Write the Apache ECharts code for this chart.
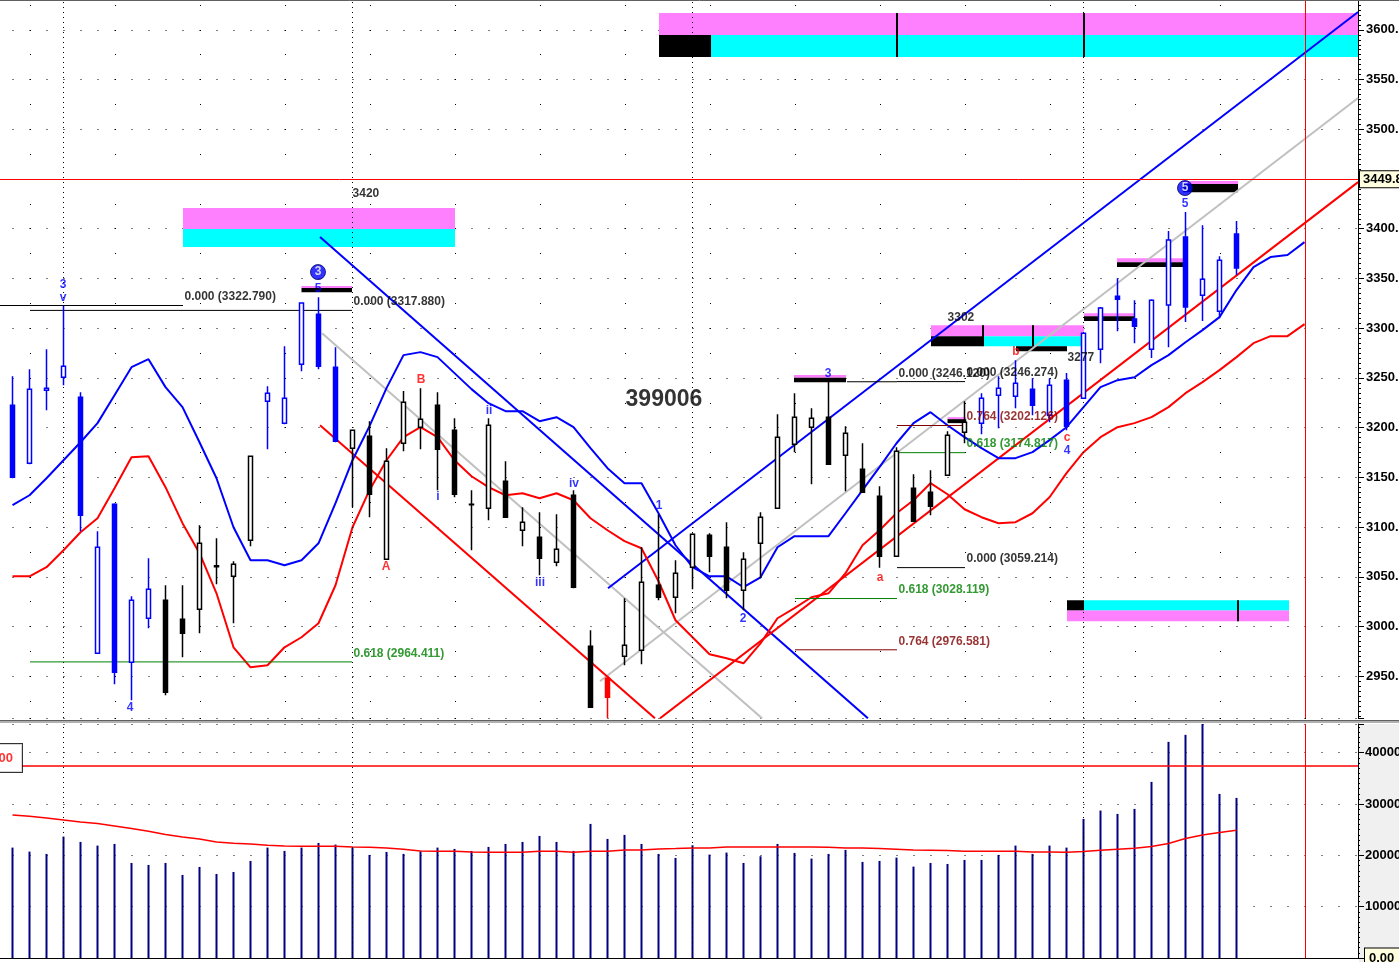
<!DOCTYPE html>
<html><head><meta charset="utf-8">
<script src="https://cdn.jsdelivr.net/npm/echarts@6/dist/echarts.min.js"></script>
<style>html,body{margin:0;padding:0;background:#fff;overflow:hidden}#c{width:1399px;height:962px}</style>
</head><body><div id="c"></div>
<script>
// ---------------- DATA ----------------
// daily candles [open, close, low, high], index 0..72
const ohlc = [
[3222.6,3150.1,3149.1,3251.7],[3164.2,3238.7,3163.2,3258.8],[3237.7,3239.7,3217.5,3278.9],[3250.7,3261.8,3242.7,3322.8],
[3230.6,3111.9,3095.8,3235.6],[2973.1,3079.7,2972.5,3095.8],[3123.0,2954.0,2941.9,3124.0],[2964.0,3026.4,2925.8,3030.4],
[3008.3,3037.5,2998.2,3068.7],[3026.4,2933.8,2930.8,3041.5],[3007.3,2993.2,2969.1,3041.5],[3017.3,3083.7,2993.2,3101.8],
[3061.0,3060.2,3042.5,3088.8],[3050.5,3062.6,3003.3,3065.6],[3086.8,3171.3,3080.7,3172.0],[3226.6,3234.6,3178.3,3241.7],
[3204.5,3229.6,3203.5,3281.9],[3263.8,3325.2,3256.8,3326.0],[3314.1,3261.8,3258.8,3331.0],[3260.8,3186.4,3185.4,3280.9],
[3179.3,3197.4,3120.0,3198.0],[3191.4,3133.0,3109.9,3206.5],[3067.6,3166.2,3067.0,3179.3],[3184.3,3225.6,3176.3,3236.7],
[3200.4,3208.5,3178.3,3239.7],[3222.6,3178.3,3137.1,3235.6],[3197.4,3133.0,3130.0,3209.5],[3123.0,3122.4,3076.7,3137.1],
[3119.0,3202.4,3106.9,3209.5],[3146.1,3109.9,3109.5,3166.2],[3096.8,3104.9,3080.7,3120.0],[3089.8,3068.7,3051.5,3114.9],
[3064.6,3077.7,3060.6,3112.9],[3132.0,3039.5,3038.5,3137.1],[2980.1,2918.8,2918.5,2996.2],[2947.9,2928.8,2908.0,2948.0],
[2970.1,2981.1,2961.0,3028.4],[2976.1,3044.5,2962.0,3079.7],[3041.5,3029.4,3026.4,3112.9],[3029.4,3053.6,3013.3,3066.6],
[3059.6,3092.8,3037.5,3093.8],[3091.8,3070.7,3054.6,3093.8],[3079.7,3036.5,3028.4,3104.9],[3036.5,3067.6,3016.3,3074.7],
[3083.7,3109.9,3048.5,3114.9],[3119.0,3190.4,3118.5,3213.5],[3183.3,3210.5,3175.3,3234.6],[3200.4,3209.5,3143.1,3219.6],
[3210.5,3163.2,3162.5,3247.0],[3172.3,3194.4,3136.1,3201.4],[3158.2,3135.0,3134.5,3184.3],[3131.0,3070.7,3059.2,3141.1],
[3070.7,3176.3,3070.0,3180.3],[3139.1,3105.9,3105.5,3153.2],[3135.0,3121.0,3111.9,3157.2],[3152.1,3192.4,3151.5,3196.4],
[3195.4,3205.5,3184.3,3226.6],[3204.5,3229.6,3193.4,3234.6],[3232.6,3239.7,3199.4,3251.7],[3231.6,3244.7,3219.6,3267.8],
[3238.7,3222.6,3212.5,3249.7],[3212.5,3242.7,3205.5,3249.7],[3247.7,3201.4,3197.4,3254.8],[3229.6,3295.0,3229.0,3295.5],
[3278.9,3320.2,3264.8,3321.2],[3332.2,3329.2,3297.0,3350.3],[3309.1,3302.0,3284.9,3328.2],[3278.9,3328.2,3269.9,3329.2],
[3323.2,3388.6,3280.9,3397.6],[3391.6,3321.2,3306.1,3416.7],[3333.2,3349.3,3307.1,3403.6],[3317.1,3368.4,3310.1,3372.4],
[3394.6,3360.4,3353.4,3407.7]
];
const volumes = [21515,20735,20280,23660,22620,21905,22230,18525,18135,18525,
16185,17745,16380,16770,18915,21515,20865,21515,22425,22100,
21515,20085,20670,20280,20800,21515,21255,20865,21645,22230,
22620,23790,22620,20865,26130,23205,23985,22230,20280,19500,
21970,20150,20540,18525,19825,22230,20475,19370,20280,21060,
18720,18915,19565,17810,18525,18330,19110,19110,20085,21905,
20280,21905,21515,27105,28730,28080,29055,34320,42120,43485,
46500,31980,31200];
const volumeMA = [27885,27625,27300,26910,26520,26195,25740,25220,24700,24050,
23595,23205,22620,22360,22230,21970,21840,21775,21775,21775,
21645,21580,21450,21190,20865,20800,20800,20670,20605,20605,
20605,20800,20800,20605,20800,20800,21060,21060,21255,21320,
21450,21450,21645,21645,21645,21645,21645,21645,21580,21450,
21450,21320,21190,21060,20995,20930,20800,20800,20800,20800,
20670,20670,20605,20735,20995,21190,21385,21710,22295,23270,
23985,24440,24895];
const volumeLevel = 37427;
// displaced envelope lines, index 0..76
const upperEnv = [3122.0,3132.0,3149.1,3167.2,3185.3,3204.5,3232.6,3260.8,3268.8,3240.7,
3220.6,3185.3,3149.1,3099.8,3066.6,3066.6,3061.6,3066.6,3083.7,3124.0,
3167.2,3201.5,3239.7,3272.9,3275.9,3270.9,3254.8,3238.7,3224.6,3216.5,
3216.5,3206.5,3210.5,3200.4,3179.3,3159.2,3144.1,3144.1,3113.9,3081.7,
3059.6,3050.5,3050.5,3039.5,3049.5,3079.7,3090.8,3090.8,3090.8,3113.9,
3137.1,3160.2,3184.3,3204.5,3215.5,3202.4,3190.4,3179.3,3169.3,3169.3,
3175.3,3187.4,3200.4,3220.6,3240.7,3247.7,3250.7,3262.8,3272.9,3285.9,
3298.0,3311.1,3338.3,3361.4,3371.5,3373.5,3386.5];
const lowerEnv = [3050.5,3050.5,3059.6,3076.7,3094.8,3108.9,3139.1,3170.3,3171.3,3140.1,
3103.9,3073.7,3033.4,2979.1,2959.0,2961.0,2979.1,2989.2,3003.3,3041.5,
3099.8,3137.1,3167.2,3190.4,3200.4,3190.4,3167.2,3151.1,3140.1,3132.0,
3134.0,3129.0,3134.0,3127.0,3108.9,3096.8,3085.8,3078.7,3045.5,3006.3,
2989.2,2972.1,2968.0,2963.0,2983.1,3008.3,3018.4,3029.4,3033.4,3053.6,
3081.7,3096.8,3113.9,3127.0,3144.1,3133.0,3117.9,3109.9,3103.9,3104.9,
3113.9,3130.0,3154.2,3175.3,3190.4,3200.4,3204.5,3210.5,3220.6,3234.6,
3245.7,3257.8,3270.9,3284.9,3292.0,3292.0,3304.1];
// trend lines [[idx, price],[idx, price]]
const blueTrends = [[[35.03,3038.5],[79.15,3617.9]], [[18.09,3391.6],[50.32,2907.7]]];
const greyTrends = [[[34.56,2944.9],[79.15,3531.4]], [[18.21,3295.0],[44.09,2907.7]]];
const redTrends  = [[[38.09,2907.7],[79.15,3446.9]], [[18.09,3202.4],[37.79,2907.7]]];
const lastPrice = 3449.8;
const cursorIdx = 76.03;
const monthStarts = [3, 20, 40, 63];
// fibonacci levels [fromIdx, toIdx, price, text]
const fibBlack = [[-0.735,10.03,3322.79,'0.000 (3322.790)'],[1.03,19.97,3317.88,'0.000 (3317.880)'],
  [49.09,52.03,3246.12,'0.000 (3246.120)'],[52.03,56.03,3246.274,'0.000 (3246.274)'],[52.03,56.03,3059.214,'0.000 (3059.214)']];
const fibGreen = [[1.03,19.97,2964.411,'0.618 (2964.411)'],[46.03,52.03,3028.119,'0.618 (3028.119)'],[52.03,56.03,3174.817,'0.618 (3174.817)']];
const fibDarkRed = [[46.03,52.03,2976.581,'0.764 (2976.581)'],[52.03,56.03,3202.126,'0.764 (3202.126)']];
// target zones [fromIdx, toIdx, lowPrice, highPrice]
const pinkZones = [[38.03,79.15,3594.8,3616.9],[10.03,26.03,3399.6,3420.8],[54.03,63.03,3292.0,3303.0],[62.03,75.09,3005.3,3016.3],
  [17.0,19.97,3340.3,3342.3],[45.97,49.03,3250.2,3252.8],[55.0,56.1,3208.5,3210.5],[63.03,66.03,3312.1,3315.1],
  [64.97,68.85,3366.4,3370.4],[68.85,72.09,3444.9,3447.9],[59.03,62.03,3281.9,3282.9]];
const cyanZones = [[41.09,79.15,3572.7,3594.8],[10.03,26.03,3381.5,3399.6],[57.09,63.03,3281.9,3292.0],[63.03,75.09,3016.3,3026.4]];
const blackZones = [[38.03,41.09,3572.7,3594.8],[54.03,57.09,3281.9,3292.0],[62.03,63.03,3016.3,3026.4],
  [17.0,19.97,3336.2,3340.3],[45.97,49.03,3245.7,3250.2],[55.0,56.1,3204.5,3208.5],[63.03,66.03,3307.1,3312.1],
  [64.97,68.85,3361.4,3366.4],[68.85,72.09,3436.8,3444.9],[59.03,62.03,3276.9,3281.9]];
const zoneTicks = [[52.03,3572.7,3616.9],[63.03,3572.7,3616.9],[57.09,3281.9,3303.0],[60.03,3281.9,3303.0],[72.09,3005.3,3026.4]];
// wave labels [idx, price, text]
const blueWaveLabels = [[2.97,3343.3,'3'],[2.97,3330.2,'v'],[6.91,2918.8,'4'],[17.97,3339.3,'5'],[25.03,3131.0,'i'],
  [28.03,3217.5,'ii'],[31.03,3044.5,'iii'],[33.03,3144.1,'iv'],[38.03,3121.0,'1'],[42.97,3008.3,'2'],
  [47.97,3253.8,'3'],[62.03,3176.3,'4'],[68.97,3424.8,'5']];
const redWaveLabels = [[21.97,3060.6,'A'],[24.03,3247.7,'B'],[51.03,3049.5,'a'],[59.03,3275.9,'b'],[62.03,3189.4,'c']];
const circledLabels = [[17.97,3356.4,'3'],[68.97,3440.9,'5']];
const priceTags = [[20.79,3434.8,'3420'],[55.79,3310.1,'3302'],[62.85,3269.9,'3277']];
const titleLabel = [[38.32,3228.6,'399006']];
const blueRanges = [[0,8],[15,19],[57,72]];
const redIndexes = [35];

// ---------------- CHART ----------------
const FONT = '"Liberation Sans", Arial, sans-serif';
const XMIN = -12.5/17, XMAX = XMIN + 1358/17;
const isBlue = i => blueRanges.some(r => i >= r[0] && i <= r[1]);
const isRed = i => redIndexes.includes(i);
const isBlack = i => !isBlue(i) && !isRed(i);

function candleSeries(filter, col){
  return {type:'candlestick', xAxisIndex:0, yAxisIndex:0, barWidth:4, z:6, silent:true,
    data: ohlc.map((d,i)=> filter(i) ? [i, d[0], d[1], d[2], d[3]] : null).filter(Boolean),
    itemStyle:{color:'#ffffff', color0:col, borderColor:col, borderColor0:col, borderWidth:1.5}};
}
function seg(pts, color, width, extra){
  return Object.assign({type:'line', xAxisIndex:0, yAxisIndex:0, data:pts, symbol:'none', silent:true, z:4,
    lineStyle:{color:color, width:width}}, extra||{});
}
function textSeries(items, label, extra){
  return Object.assign({type:'scatter', xAxisIndex:0, yAxisIndex:0, symbolSize:1, silent:true, z:9,
    itemStyle:{color:'rgba(0,0,0,0)'},
    data: items.map(t => ({value:[t[0], t[1]], name:t[2]})),
    label: Object.assign({show:true, formatter:p=>p.name, position:'inside', fontFamily:FONT}, label)}, extra||{});
}
function zoneSeries(zones, color){
  return {type:'line', xAxisIndex:0, yAxisIndex:0, data:[], z:1, silent:true,
    markArea:{silent:true, z:1, data: zones.map(zn => [{coord:[zn[0], zn[2]], itemStyle:{color:color, opacity:1}}, {coord:[zn[1], zn[3]]}])}};
}

const series = [];
series.push(zoneSeries(pinkZones, '#ff80ff'));
series.push(zoneSeries(cyanZones, '#00ffff'));
series.push(zoneSeries(blackZones, '#000000'));
zoneTicks.forEach(t => series.push(seg([[t[0], t[1]], [t[0], t[2]]], '#000000', 2, {z:2})));
function vLines(xi, yi){
  return {type:'line', xAxisIndex:xi, yAxisIndex:yi, data:[], z:2, silent:true,
    markLine:{silent:true, symbol:['none','none'], label:{show:false}, animation:false,
      data: monthStarts.map(m => ({xAxis:m, lineStyle:{color:'#000', width:1, type:[1,4]}}))
        .concat([{xAxis:cursorIdx, lineStyle:{color:'#ff0000', width:1, type:'solid'}}])}};
}
series.push(vLines(0,0));
series.push(vLines(1,2));
series.push({type:'line', xAxisIndex:0, yAxisIndex:0, data:[], z:7, silent:true,
  markLine:{silent:true, symbol:['none','none'], animation:false,
    lineStyle:{color:'#ff0000', width:1, type:'solid'},
    label:{show:true, position:'end', distance:2, formatter:'3449.8', color:'#000', fontWeight:'bold', fontSize:13,
      fontFamily:FONT, backgroundColor:'#ffffe0', borderColor:'#000', borderWidth:1, padding:[2,6,1,3]},
    data:[{yAxis:lastPrice}]}});
greyTrends.forEach(t => series.push(seg(t, '#c0c0c0', 2, {z:3})));
blueTrends.forEach(t => series.push(seg(t, '#0000ff', 2, {z:4})));
redTrends.forEach(t => series.push(seg(t, '#ff0000', 2, {z:4})));
series.push(seg(upperEnv.map((v,i)=>[i,v]), '#0000ff', 2, {z:4}));
series.push(seg(lowerEnv.map((v,i)=>[i,v]), '#ff0000', 2, {z:4}));
fibBlack.forEach(f => series.push(seg([[f[0],f[2]],[f[1],f[2]]], '#000000', 1, {z:5})));
fibGreen.forEach(f => series.push(seg([[f[0],f[2]],[f[1],f[2]]], '#008000', 1, {z:5})));
fibDarkRed.forEach(f => series.push(seg([[f[0],f[2]],[f[1],f[2]]], '#800000', 1, {z:5})));
series.push(candleSeries(isBlue, '#0000ff'));
series.push(candleSeries(isBlack, '#000000'));
series.push(candleSeries(isRed, '#ff0000'));
const fibLabel = c => ({position:[2,-14], color:c, fontSize:12, fontWeight:'bold'});
series.push(textSeries(fibBlack.map(f=>[f[1],f[2],f[3]]), fibLabel('#000000')));
series.push(textSeries(fibGreen.map(f=>[f[1],f[2],f[3]]), fibLabel('#008000')));
series.push(textSeries(fibDarkRed.map(f=>[f[1],f[2],f[3]]), fibLabel('#800000')));
series.push(textSeries(blueWaveLabels, {color:'#0000ff', fontSize:12, fontWeight:'bold'}));
series.push(textSeries(redWaveLabels, {color:'#ff0000', fontSize:12, fontWeight:'bold'}));
series.push(textSeries(priceTags, {color:'#000000', fontSize:12, fontWeight:'bold'}));
series.push(textSeries(titleLabel, {color:'#000000', fontSize:23, fontWeight:'bold'}));
series.push(textSeries(circledLabels, {color:'#ffffff', fontSize:12, fontWeight:'bold'},
  {symbolSize:15, itemStyle:{color:'#0000ff', borderColor:'#000060', borderWidth:1}}));
series.push({type:'bar', xAxisIndex:1, yAxisIndex:2, barWidth:2, silent:true, z:3,
  itemStyle:{color:'#000080'}, data: volumes.map((v,i)=>[i,v])});
series.push({type:'line', xAxisIndex:1, yAxisIndex:2, symbol:'none', silent:true, z:4,
  lineStyle:{color:'#ff0000', width:1.5}, data: volumeMA.map((v,i)=>[i,v])});
series.push({type:'line', xAxisIndex:1, yAxisIndex:2, symbol:'none', silent:true, z:4,
  lineStyle:{color:'#ff0000', width:1.5}, data: [[0.56, volumeLevel],[XMAX, volumeLevel]]});
series.push({type:'scatter', xAxisIndex:1, yAxisIndex:2, symbolSize:1, silent:true, z:9,
  itemStyle:{color:'rgba(0,0,0,0)'}, data:[{value:[XMIN, volumeLevel], name:volumeLevel.toFixed(2)}],
  label:{show:true, position:'inside', align:'right', offset:[22,-8], formatter:p=>p.name, color:'#ff0000',
    fontSize:13, fontWeight:'bold', fontFamily:FONT, backgroundColor:'#ffffff', borderColor:'#000', borderWidth:1, padding:[8,9,7,2]}});

const hiddenAxisLine = {show:false, onZero:false};
const option = {
  animation:false,
  backgroundColor:'#ffffff',
  textStyle:{fontFamily:FONT},
  grid:[{left:0, top:0, width:1358, height:718, outerBoundsMode:'none', containLabel:false},
        {left:0, top:724, width:1358, height:234, outerBoundsMode:'none', containLabel:false}],
  xAxis:[
    {type:'value', gridIndex:0, min:XMIN, max:XMAX, show:false, axisLine:hiddenAxisLine, splitLine:{show:false}},
    {type:'value', gridIndex:1, min:XMIN, max:XMAX, axisLine:{show:true, onZero:false, lineStyle:{color:'#000', width:1}},
      axisTick:{show:false}, axisLabel:{show:false}, splitLine:{show:false}}
  ],
  yAxis:[
    {type:'value', gridIndex:0, position:'right', min:2908, max:3630, splitNumber:14, minInterval:50, maxInterval:50,
      axisLine:{show:true, onZero:false, lineStyle:{color:'#000', width:1}},
      axisTick:{show:true, length:6, lineStyle:{color:'#000'}},
      minorTick:{show:true, splitNumber:10, length:3, lineStyle:{color:'#000'}},
      axisLabel:{show:true, margin:8, color:'#000', fontSize:13, fontWeight:'bold', fontFamily:FONT,
        formatter:v=>v.toFixed(3), showMinLabel:false, showMaxLabel:false},
      splitLine:{show:true, lineStyle:{color:'#000', width:1, type:[1,16], dashOffset:4.5}}},
    {type:'value', gridIndex:0, position:'left', min:2908, max:3630, splitNumber:29, minInterval:25, maxInterval:25,
      axisLine:hiddenAxisLine, axisTick:{show:false}, axisLabel:{show:false},
      splitLine:{show:true, lineStyle:{color:'#000', width:1, type:[1,84], dashOffset:55}}},
    {type:'value', gridIndex:1, position:'right', min:0, max:45600, interval:10000,
      axisLine:{show:true, onZero:false, lineStyle:{color:'#000', width:1}},
      axisTick:{show:true, length:6, lineStyle:{color:'#000'}},
      minorTick:{show:true, splitNumber:10, length:2, lineStyle:{color:'#000'}},
      axisLabel:{show:true, margin:7, color:'#000', fontSize:13, fontWeight:'bold', fontFamily:FONT, showMaxLabel:false,
        formatter:v=> v===0 ? '{b|0.00}' : v.toFixed(2),
        rich:{b:{backgroundColor:'#ffffe0', borderColor:'#000', borderWidth:1, padding:[3,6,3,4], color:'#000', fontWeight:'bold', fontSize:13, fontFamily:FONT}}},
      splitLine:{show:true, lineStyle:{color:'#000', width:1, type:[1,16], dashOffset:4.5}}}
  ],
  graphic:[
    {type:'rect', z:-10, shape:{x:1359, y:724, width:40, height:238}, style:{fill:'#f0f0f0'}},
    {type:'rect', z:10, shape:{x:0, y:720, width:1399, height:3}, style:{fill:'#b0b0b0'}},
    {type:'line', z:10, shape:{x1:0, y1:720.5, x2:1399, y2:720.5}, style:{stroke:'#606060', lineWidth:1}},
    {type:'line', z:10, shape:{x1:0, y1:0.5, x2:1399, y2:0.5}, style:{stroke:'#606060', lineWidth:1}}
  ],
  series: series
};
const chart = echarts.init(document.getElementById('c'));
chart.setOption(option);
</script></body></html>
